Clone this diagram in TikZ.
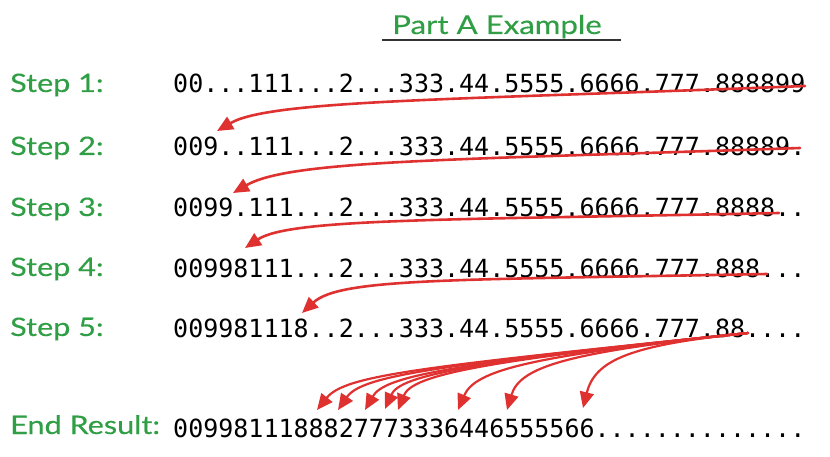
\documentclass[tikz,border=0pt]{standalone}
\usepackage{fontspec}
\setmonofont{DejaVu Sans Mono}
\newfontfamily\handfont[FakeStretch=1.2,FakeBold=0.3]{Lato}
\usetikzlibrary{arrows.meta}
\definecolor{hintgreen}{RGB}{47,158,68}
\definecolor{movered}{RGB}{224,49,49}

\tikzset{
  steplabel/.style={anchor=base west, inner sep=0pt, text=hintgreen,
    font=\handfont\fontsize{25.5}{30}\selectfont},
  rowtext/.style={anchor=base west, inner sep=0pt,
    font=\ttfamily\fontsize{25}{30}\selectfont},
  movearrow/.style={draw=movered, line width=2.6pt, line cap=round,
    -{Triangle[length=16pt,width=14pt]}},
  spreadarrow/.style={movearrow, line width=2.2pt},
}

\begin{document}
\begin{tikzpicture}[x=1pt,y=-1pt]
            \useasboundingbox (0,0) rectangle (830,457);

            % title
            \node[anchor=base, inner sep=0pt, text=hintgreen,
              font=\handfont\fontsize{26}{30}\selectfont] (title) at (497,34) {Part A Example};
            \draw[line width=1.5pt, draw=black!80] (382,40) -- (621,40);

            % labels
            \node[steplabel] (lab1) at (10,92) {Step 1:};
            \node[steplabel] (lab2) at (10,155) {Step 2:};
            \node[steplabel] (lab3) at (10,216) {Step 3:};
            \node[steplabel] (lab4) at (10,276) {Step 4:};
            \node[steplabel] (lab5) at (10,336) {Step 5:};
            \node[steplabel] (labend) at (10,434) {End Result:};

            % rows
            \node[rowtext] (row1) at (173,93) {00...111...2...333.44.5555.6666.777.888899};
            \node[rowtext] (row2) at (173,156) {009..111...2...333.44.5555.6666.777.88889.};
            \node[rowtext] (row3) at (173,217) {0099.111...2...333.44.5555.6666.777.8888..};
            \node[rowtext] (row4) at (173,277) {00998111...2...333.44.5555.6666.777.888...};
            \node[rowtext] (row5) at (173,337) {009981118..2...333.44.5555.6666.777.88....};
            \node[rowtext] (rowend) at (173,437) {0099811188827773336446555566..............};

            % single moves
            \coordinate (from1) at (805,86);
            \coordinate (to2) at (217,131);
            \coordinate (from2) at (800,148);
            \coordinate (to3) at (233,193);
            \coordinate (from3) at (779,213);
            \coordinate (to4) at (245,248);
            \coordinate (from4) at (767,274);
            \coordinate (to5) at (302,313);
            \draw[movearrow] (from1) .. controls (450,100) and (270,100) .. (to2);
            \draw[movearrow] (from2) .. controls (450,160) and (290,160) .. (to3);
            \draw[movearrow] (from3) .. controls (450,220) and (290,218) .. (to4);
            \draw[movearrow] (from4) .. controls (450,280) and (340,278) .. (to5);

            % spread to end result
            \coordinate (from5) at (748,333);
            \coordinate (end1) at (317,410);
            \coordinate (end2) at (338,410);
            \coordinate (end3) at (365,410);
            \coordinate (end4) at (385,409);
            \coordinate (end5) at (398,410);
            \coordinate (end6) at (458,410);
            \coordinate (end7) at (507,410);
            \coordinate (end8) at (583,408);
            \draw[spreadarrow] (from5) .. controls (420,367) and (345,375) .. (end1);
            \draw[spreadarrow] (from5) .. controls (440,365) and (362,375) .. (end2);
            \draw[spreadarrow] (from5) .. controls (455,364) and (385,375) .. (end3);
            \draw[spreadarrow] (from5) .. controls (470,362) and (400,375) .. (end4);
            \draw[spreadarrow] (from5) .. controls (480,361) and (412,375) .. (end5);
            \draw[spreadarrow] (from5) .. controls (530,356) and (475,370) .. (end6);
            \draw[spreadarrow] (from5) .. controls (570,352) and (520,366) .. (end7);
            \draw[spreadarrow] (from5) .. controls (630,345) and (595,360) .. (end8);

        \end{tikzpicture}
\end{document}
